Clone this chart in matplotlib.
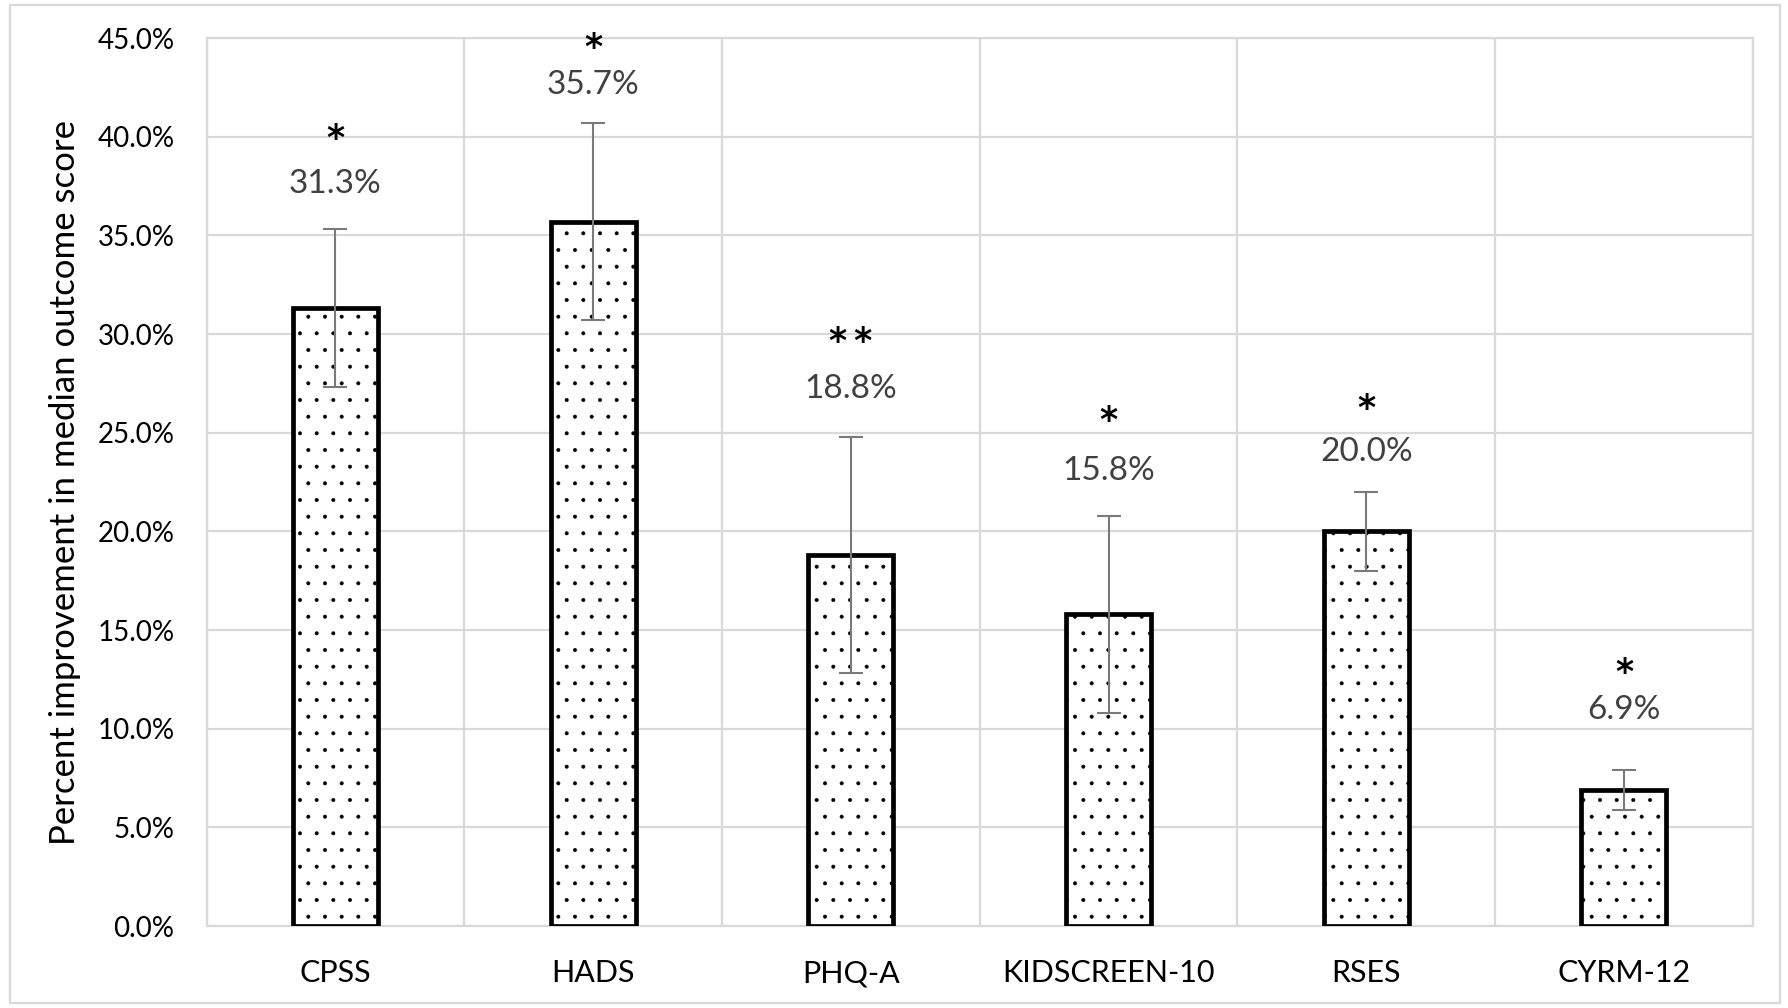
import numpy as np
import matplotlib.pyplot as plt
from matplotlib.patches import Rectangle

# outcome measures and percent improvement in median score
measures = ["CPSS", "HADS", "PHQ-A", "KIDSCREEN-10", "RSES", "CYRM-12"]
improvement = [31.3, 35.7, 18.8, 15.8, 20.0, 6.9]
errors = [4.0, 5.0, 6.0, 5.0, 2.0, 1.0]
significance = ["*", "*", "**", "*", "*", "*"]

# how far (points) each value label sits above its error bar, and the star above the label
label_lift = [33, 27, 34, 32, 29, 43]
star_lift = [36, 31, 38, 40, 35, 31]

plt.rcParams["font.family"] = ["Lato", "DejaVu Sans"]
plt.rcParams["hatch.linewidth"] = 0.4

fig = plt.figure(figsize=(17.88, 10.08), dpi=100)
ax = fig.add_axes([0.1155, 0.0813, 0.8648, 0.881])

x = np.arange(len(measures))
ax.bar(x, improvement, width=0.33, color="white", edgecolor="black",
       linewidth=3.4, hatch=".", zorder=3)
ax.errorbar(x, improvement, yerr=errors, fmt="none", ecolor="#7a7a7a",
            elinewidth=1.5, capsize=8.6, capthick=1.5, zorder=4)

# value labels and significance stars above the error bars
for xi, val, err, sig, dl, ds in zip(x, improvement, errors, significance, label_lift, star_lift):
    top = val + err
    ax.annotate(f"{val:.1f}%", (xi, top), xytext=(0, dl), textcoords="offset points",
                ha="center", va="center", fontsize=24, color="#404040")
    ax.annotate("\u2009".join(sig), (xi, top), xytext=(0, dl + ds - 4),
                textcoords="offset points", ha="center", va="center", fontsize=25,
                fontweight="bold", family="DejaVu Sans", color="black")

ax.set_xlim(-0.5, len(measures) - 0.5)
ax.set_ylim(0, 45)
ax.set_yticks(np.arange(0, 46, 5))
ax.set_yticklabels([f"{v:.1f}%" for v in np.arange(0, 46, 5)])
ax.set_xticks(x)
ax.set_xticklabels(measures)
ax.tick_params(axis="both", length=0)
ax.tick_params(axis="y", pad=23, labelsize=20)
ax.tick_params(axis="x", pad=24, labelsize=22)

# horizontal gridlines plus vertical separators between categories
ax.set_xticks(np.arange(-0.5, len(measures), 1), minor=True)
ax.tick_params(axis="x", which="minor", length=0)
ax.grid(axis="y", color="#d9d9d9", linewidth=1.6, zorder=0)
ax.grid(axis="x", which="minor", color="#d9d9d9", linewidth=1.6, zorder=0)
for side in ax.spines.values():
    side.set_color("#d9d9d9")
    side.set_linewidth(1.6)

ax.set_ylabel("Percent improvement in median outcome score", fontsize=25)
ax.yaxis.set_label_coords(-0.081, 0.5)

# light frame round the whole chart
fig.patches.append(Rectangle((10 / 1788, 5 / 1008), 1770 / 1788, 998 / 1008,
                             transform=fig.transFigure, fill=False,
                             edgecolor="#d9d9d9", linewidth=1.6))

plt.savefig("out.png", dpi=100)
